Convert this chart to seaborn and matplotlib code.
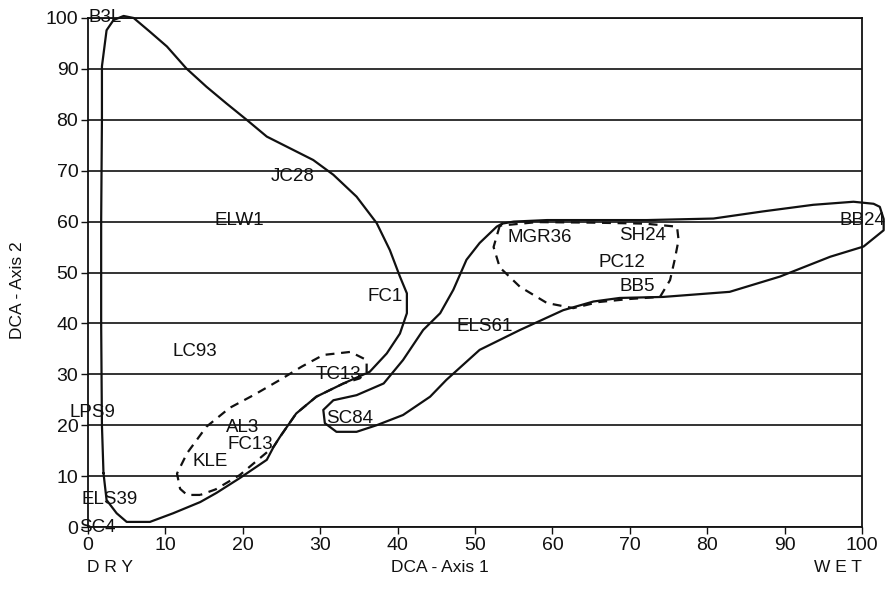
import matplotlib
matplotlib.use("Agg")
import matplotlib.pyplot as plt
import seaborn as sns
import pandas as pd

# Site scores on the first two DCA axes
site_names = ["B3L", "JC28", "ELW1", "FC1", "LC93", "TC13", "LPS9", "AL3", "FC13",
              "KLE", "ELS39", "SC4", "SC84", "ELS61", "MGR36", "SH24", "PC12", "BB5", "BB24"]
site_x = [2.2, 26.4, 19.6, 38.4, 13.8, 32.3, 0.6, 20.0, 21.0,
          15.8, 2.8, 1.2, 33.8, 51.3, 58.4, 71.7, 69.0, 71.0, 100.0]
site_y = [100.0, 68.8, 60.3, 45.2, 34.4, 30.0, 22.4, 19.6, 16.3,
          12.8, 5.5, 0.0, 21.4, 39.3, 56.8, 57.2, 52.0, 47.2, 60.3]

# Group envelopes (outline vertices in axis units)
dry_env_x = [2.0, 1.8, 1.7, 1.7, 1.8, 1.8, 2.4, 3.3, 4.6, 5.9, 8.0, 10.2, 12.7, 15.3,
             17.9, 20.5, 23.1, 26.1, 29.1, 31.7, 34.7, 37.3, 39.0, 40.3, 41.2, 41.2,
             40.3, 38.6, 36.4, 33.0, 29.5, 26.9, 24.8, 24.0, 23.1, 19.6, 16.6, 14.5,
             11.0, 8.0, 5.0, 3.7, 2.4, 2.0]
dry_env_y = [10.6, 20.0, 40.0, 60.0, 80.0, 90.5, 97.6, 99.6, 100.4, 100.0, 97.3, 94.4,
             90.1, 86.5, 83.2, 80.0, 76.7, 74.4, 72.1, 69.2, 64.9, 59.7, 54.4, 49.2,
             45.9, 42.0, 38.0, 34.1, 30.5, 28.2, 25.6, 22.3, 17.7, 15.8, 13.2, 9.6,
             6.7, 4.9, 2.7, 1.0, 1.0, 2.7, 5.3, 10.6]

wet_env_x = [53.5, 55.0, 59.3, 63.6, 72.2, 80.8, 87.2, 93.7, 98.9, 101.5, 102.3, 102.8,
             102.8, 100.2, 95.9, 89.4, 82.9, 74.3, 68.7, 65.3, 61.4, 55.8, 50.6, 46.3,
             44.2, 40.7, 37.3, 34.7, 32.1, 30.6, 30.4, 31.7, 34.7, 38.2, 40.7, 43.3,
             45.5, 47.2, 48.9, 50.6, 52.8, 53.5]
wet_env_y = [59.6, 60.0, 60.3, 60.3, 60.3, 60.6, 62.0, 63.3, 63.9, 63.5, 62.9, 60.5,
             58.3, 55.1, 53.1, 49.2, 46.2, 45.2, 45.0, 44.3, 42.6, 38.7, 34.8, 28.9,
             25.6, 22.0, 20.0, 18.7, 18.7, 20.4, 23.0, 24.9, 25.9, 28.2, 32.8, 38.7,
             42.0, 46.6, 52.5, 55.8, 59.0, 59.6]

kle_env_x = [14.5, 12.8, 11.9, 11.5, 12.8, 15.3, 18.3, 21.5, 24.8, 27.6, 30.4, 33.9,
             36.0, 36.0, 35.1, 33.0, 29.5, 26.9, 24.8, 24.0, 19.6, 16.5, 14.5]
kle_env_y = [6.3, 6.3, 7.5, 10.5, 14.5, 19.7, 23.4, 26.0, 28.9, 31.5, 33.8, 34.4,
             32.8, 30.5, 29.2, 28.2, 25.6, 22.3, 17.7, 15.8, 10.2, 7.4, 6.3]

mgr_env_x = [53.2, 52.4, 53.2, 55.8, 59.3, 62.7, 66.0, 70.0, 73.9, 75.2, 75.8, 76.3,
             76.1, 72.0, 65.0, 58.0, 53.2]
mgr_env_y = [59.2, 55.0, 51.0, 47.2, 44.0, 43.0, 44.2, 44.8, 45.2, 48.5, 52.5, 56.4,
             59.0, 59.6, 59.8, 59.9, 59.2]

x_ticks = list(range(0, 101, 10))
y_ticks = list(range(0, 101, 10))

sns.set_style("ticks")
plt.rcParams["font.family"] = ["Liberation Sans", "DejaVu Sans"]

fig = plt.figure(figsize=(8.85, 5.98), dpi=100)
ax = fig.add_axes([88 / 885, 1 - 527 / 598, (862 - 88) / 885, (527 - 18) / 598])

ink = "#111111"

def outline(xs, ys, style):
    df = pd.DataFrame({"x": xs, "y": ys})
    sns.lineplot(data=df, x="x", y="y", sort=False, estimator=None, ax=ax,
                 color=ink, lw=1.6, linestyle=style, clip_on=False)

outline(dry_env_x, dry_env_y, "-")
outline(wet_env_x, wet_env_y, "-")
outline(kle_env_x, kle_env_y, (0, (4, 3)))
outline(mgr_env_x, mgr_env_y, (0, (4, 3)))

for name, x, y in zip(site_names, site_x, site_y):
    ax.text(x, y, name, ha="center", va="center", fontsize=13.5, color=ink,
            clip_on=False)

ax.set_xlim(0, 100)
ax.set_ylim(0, 100)
ax.set_xticks(x_ticks)
ax.set_yticks(y_ticks)
ax.tick_params(axis="both", direction="out", length=5, width=1.0, colors=ink,
               labelsize=14, pad=2)
ax.yaxis.grid(True, color=ink, lw=1.2)
ax.xaxis.grid(False)
for side in ["left", "right", "top", "bottom"]:
    ax.spines[side].set_visible(True)
    ax.spines[side].set_color(ink)
    ax.spines[side].set_linewidth(1.3)

ax.set_xlabel("")
ax.set_ylabel("")
fig.text(440 / 885, 1 - 567 / 598, "DCA - Axis 1", ha="center", va="center",
         fontsize=12.5, color=ink)
fig.text(18 / 885, 1 - 290 / 598, "DCA - Axis 2", ha="center", va="center",
         rotation=90, fontsize=12.5, color=ink)
fig.text(110 / 885, 1 - 567 / 598, "D R Y", ha="center", va="center",
         fontsize=12.5, color=ink)
fig.text(838 / 885, 1 - 567 / 598, "W E T", ha="center", va="center",
         fontsize=12.5, color=ink)

fig.savefig("out.png", dpi=100, facecolor="white")
